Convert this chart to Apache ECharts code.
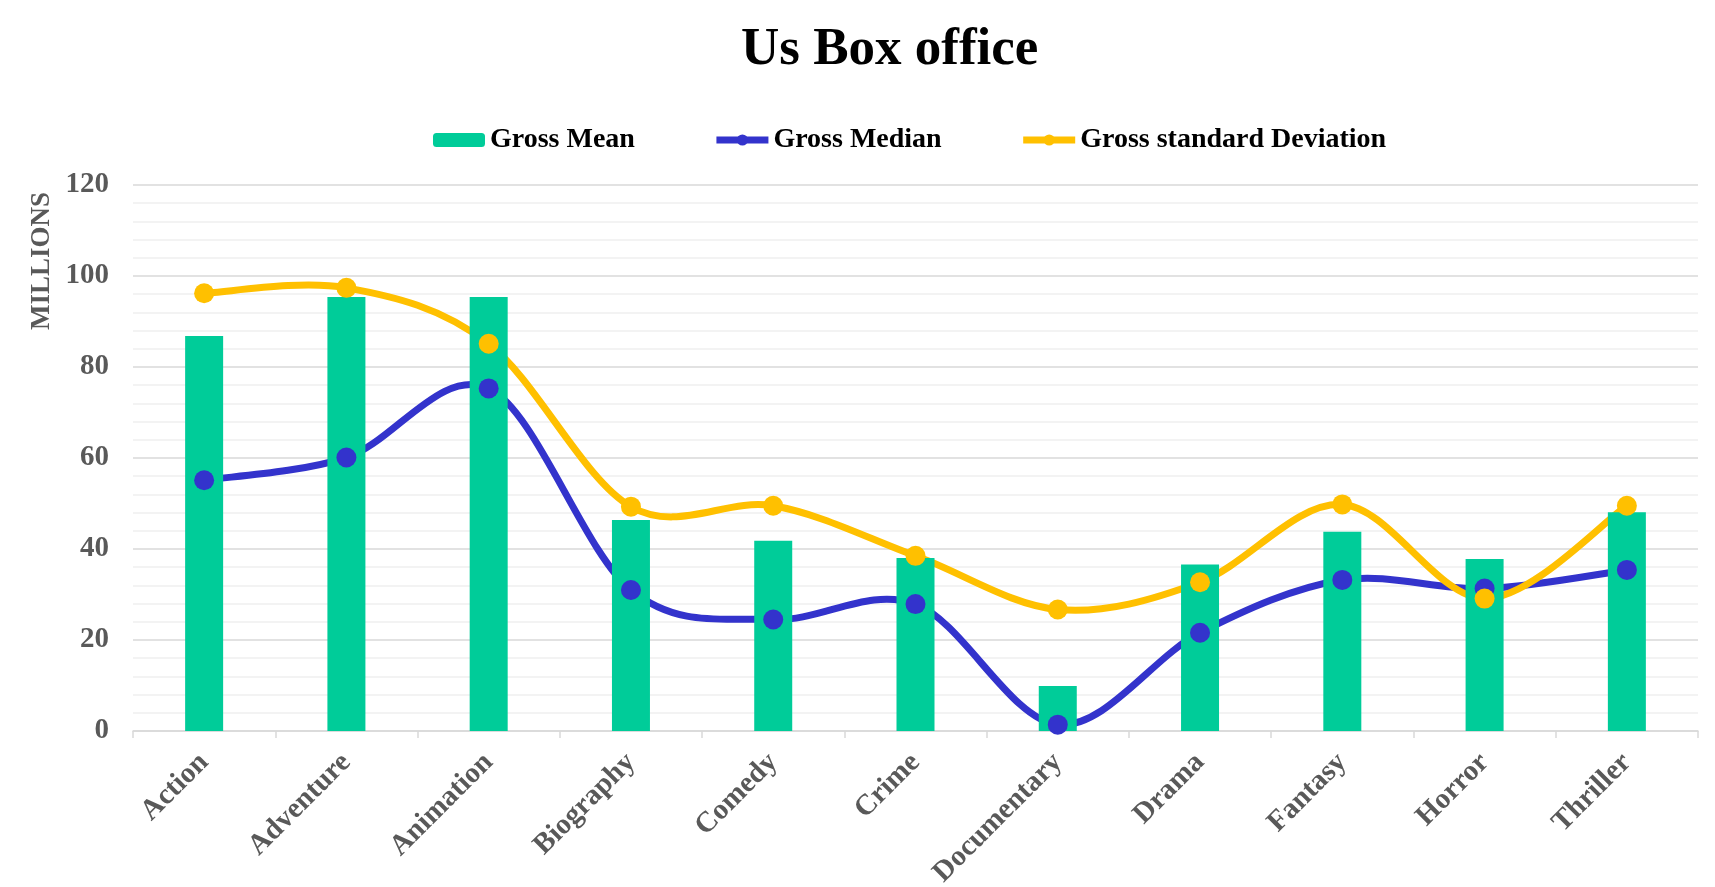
<!DOCTYPE html>
<html lang="en">
<head>
    <meta charset="UTF-8">
    <title>Us Box office</title>
    <script type="text/javascript" src="https://cdn.jsdelivr.net/npm/echarts@6/dist/echarts.min.js"></script>
    <style>
        html, body { margin: 0; padding: 0; background: #fff; }
    </style>
</head>
<body>
<div id="chart" style="width: 1715px;height:887px;"></div>
<script>
    // genres on the x axis
    var genres = ['Action', 'Adventure', 'Animation', 'Biography', 'Comedy', 'Crime',
        'Documentary', 'Drama', 'Fantasy', 'Horror', 'Thriller'];
    // values in millions
    var grossMean = [86.8, 95.4, 95.4, 46.4, 41.8, 38.0, 9.9, 36.6, 43.8, 37.8, 48.1];
    var grossMedian = [55.1, 60.1, 75.3, 31.0, 24.5, 27.9, 1.4, 21.6, 33.2, 31.3, 35.4];
    var grossStd = [96.2, 97.4, 85.1, 49.3, 49.5, 38.5, 26.7, 32.7, 49.8, 29.1, 49.5];
    var yTicks = [0, 20, 40, 60, 80, 100, 120];

    var serif = '"Liberation Serif", "Times New Roman", serif';
    var grey = '#595959';
    var blue = '#3333CC';
    var gold = '#FFC000';

    // Excel-like smoothed segment (catmull-rom, 1/6 tension) between point i and i+1
    function curveSeries(values, color) {
        return {
            type: 'custom',
            silent: true,
            data: values.map(function (v, i) { return [i, v]; }),
            renderItem: function (params, api) {
                var i = params.dataIndex;
                var n = values.length;
                if (i >= n - 1) return null;
                function pt(k) {
                    k = Math.max(0, Math.min(n - 1, k));
                    return api.coord([k, values[k]]);
                }
                var p0 = pt(i - 1), p1 = pt(i), p2 = pt(i + 1), p3 = pt(i + 2);
                return {
                    type: 'bezierCurve',
                    shape: {
                        x1: p1[0], y1: p1[1],
                        cpx1: p1[0] + (p2[0] - p0[0]) / 6,
                        cpy1: p1[1] + (p2[1] - p0[1]) / 6,
                        cpx2: p2[0] - (p3[0] - p1[0]) / 6,
                        cpy2: p2[1] - (p3[1] - p1[1]) / 6,
                        x2: p2[0], y2: p2[1]
                    },
                    style: {stroke: color, lineWidth: 7, fill: null, lineCap: 'round'}
                };
            }
        };
    }

    var option = {
        title: {
            text: 'Us Box office',
            left: 736,
            top: 19,
            textStyle: {fontFamily: serif, fontSize: 53, fontWeight: 'bold', color: '#000'}
        },
        legend: {
            left: 428,
            top: 121,
            itemWidth: 52,
            itemHeight: 14,
            itemGap: 78,
            textStyle: {fontFamily: serif, fontSize: 28, fontWeight: 'bold', color: '#000'},
            data: [
                {name: 'Gross Mean'},
                {name: 'Gross Median', lineStyle: {color: blue, width: 7, opacity: 1}},
                {name: 'Gross standard Deviation', lineStyle: {color: gold, width: 7, opacity: 1}}
            ]
        },
        graphic: [{
            type: 'text',
            x: 42,
            y: 261,
            rotation: Math.PI / 2,
            style: {
                text: 'MILLIONS',
                fontFamily: serif, fontSize: 27, fontWeight: 'bold', fill: grey,
                textAlign: 'center', textVerticalAlign: 'middle'
            }
        }],
        grid: {left: 133, right: 17, top: 185, bottom: 156, outerBoundsMode: 'none'},
        xAxis: {
            type: 'category',
            data: genres,
            axisLine: {lineStyle: {color: '#D9D9D9', width: 1.5}},
            axisTick: {show: true, length: 7, lineStyle: {color: '#D9D9D9', width: 1.5}},
            axisLabel: {
                rotate: 45, margin: 27,
                fontFamily: serif, fontSize: 29, fontWeight: 'bold', color: grey
            }
        },
        yAxis: {
            type: 'value',
            min: yTicks[0],
            max: yTicks[yTicks.length - 1],
            interval: 20,
            axisLine: {show: false},
            axisTick: {show: false},
            axisLabel: {margin: 24, fontFamily: serif, fontSize: 29, fontWeight: 'bold', color: grey},
            splitLine: {lineStyle: {color: '#D9D9D9', width: 1.5}},
            minorTick: {show: false, splitNumber: 5},
            minorSplitLine: {show: true, lineStyle: {color: '#F0F0F0', width: 1.5}}
        },
        series: [
            {
                name: 'Gross Mean',
                type: 'bar',
                barWidth: 38,
                itemStyle: {color: '#00CC99'},
                data: grossMean
            },
            curveSeries(grossMedian, blue),
            {
                name: 'Gross Median',
                type: 'line',
                symbol: 'circle',
                symbolSize: 20,
                lineStyle: {color: blue, width: 7, opacity: 0},
                itemStyle: {color: blue},
                data: grossMedian
            },
            curveSeries(grossStd, gold),
            {
                name: 'Gross standard Deviation',
                type: 'line',
                symbol: 'circle',
                symbolSize: 20,
                lineStyle: {color: gold, width: 7, opacity: 0},
                itemStyle: {color: gold},
                data: grossStd
            }
        ]
    };

    var myChart = echarts.init(document.getElementById('chart'));
    myChart.setOption(option);
</script>
</body>
</html>
